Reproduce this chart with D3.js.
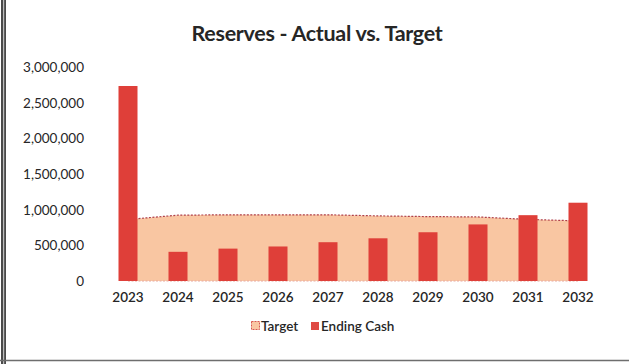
<!DOCTYPE html>
<html>
<head>
<meta charset="utf-8">
<script src="https://cdn.jsdelivr.net/npm/d3@7/dist/d3.min.js"></script>
<style>
  html, body { margin: 0; padding: 0; background: #fff; }
  svg { display: block; }
  text { font-family: Lato, "Open Sans", sans-serif; fill: #262626; }
</style>
</head>
<body>
<svg id="chart" width="629" height="364"></svg>
<script>
// Reserve projections by year
const years = ["2023", "2024", "2025", "2026", "2027", "2028", "2029", "2030", "2031", "2032"];
const endingCash = [2740000, 410000, 455000, 485000, 545000, 600000, 685000, 795000, 925000, 1100000];
const target = [865000, 925000, 930000, 930000, 930000, 915000, 905000, 900000, 865000, 845000];
const yTicks = [0, 500000, 1000000, 1500000, 2000000, 2500000, 3000000];

const svg = d3.select("#chart");
const W = 629, H = 364;

// frame edges
svg.append("rect").attr("x", 1).attr("y", 0).attr("width", 5).attr("height", H)
  .attr("fill", "#4a4a4a");
svg.append("rect").attr("x", 3).attr("y", 0).attr("width", 1.2).attr("height", H)
  .attr("fill", "#bdbdbd");
svg.append("line").attr("x1", 0).attr("x2", W).attr("y1", 360.5).attr("y2", 360.5)
  .attr("stroke", "#6e6e6e").attr("stroke-width", 1.5);

const x = d3.scaleBand().domain(years).range([103, 603]).paddingInner(0.62).paddingOuter(0.31);
const y = d3.scaleLinear().domain([0, 3000000]).range([281, 67.5]);

// title
svg.append("text").attr("x", 317).attr("y", 41).attr("text-anchor", "middle")
  .attr("font-size", 21.5).attr("font-weight", 700).attr("fill", "#111")
  .style("letter-spacing", "-0.3px")
  .text("Reserves - Actual vs. Target");

// y axis labels
const yAxis = d3.axisLeft(y).tickValues(yTicks).tickSize(0).tickPadding(0)
  .tickFormat(d => d === 0 ? "0" : d3.format(",")(d));
const gy = svg.append("g").attr("transform", "translate(84,0)").call(yAxis);
gy.select(".domain").remove();
gy.selectAll("text").attr("font-size", 13.5).attr("fill", "#2a2a2a")
  .style("font-family", "Lato, 'Open Sans', sans-serif");

// target area
const cx = d => x(d) + x.bandwidth() / 2;
const data = years.map((yr, i) => ({ yr, t: target[i], c: endingCash[i] }));
const area = d3.area().x(d => cx(d.yr)).y0(y(0)).y1(d => y(d.t));
const line = d3.line().x(d => cx(d.yr)).y(d => y(d.t));
svg.append("path").datum(data).attr("d", area).attr("fill", "#f9c6a2");
svg.append("path").datum(data).attr("d", line).attr("fill", "none")
  .attr("stroke", "#b0404a").attr("stroke-width", 1.2).attr("stroke-dasharray", "2,1.5");
svg.append("line").attr("x1", cx(years[0])).attr("x2", cx(years[years.length - 1]))
  .attr("y1", y(0)).attr("y2", y(0))
  .attr("stroke", "#e8a9a0").attr("stroke-width", 1).attr("stroke-dasharray", "2,1.5");

// ending cash bars
svg.append("g").selectAll("rect").data(data).join("rect")
  .attr("x", d => x(d.yr)).attr("width", x.bandwidth())
  .attr("y", d => y(d.c)).attr("height", d => y(0) - y(d.c))
  .attr("fill", "#df3f39");

// x axis labels
const xAxis = d3.axisBottom(x).tickSize(0).tickPadding(0);
const gx = svg.append("g").attr("transform", "translate(0,292)").call(xAxis);
gx.select(".domain").remove();
gx.selectAll("text").attr("font-size", 13.5).attr("font-weight", 600).attr("fill", "#2a2a2a")
  .attr("dy", "0.71em")
  .style("font-family", "Lato, 'Open Sans', sans-serif");

// legend
const lg = svg.append("g").attr("transform", "translate(0,326)");
lg.append("rect").attr("x", 251.5).attr("y", -4.5).attr("width", 8).attr("height", 8)
  .attr("fill", "#f9c6a2").attr("stroke", "#d8584f").attr("stroke-width", 1)
  .attr("stroke-dasharray", "2,1");
lg.append("text").attr("x", 261).attr("y", 0).attr("dy", "0.35em")
  .attr("font-size", 13.5).attr("font-weight", 600).text("Target");
lg.append("rect").attr("x", 311).attr("y", -4).attr("width", 8).attr("height", 8)
  .attr("fill", "#df4a44");
lg.append("text").attr("x", 321).attr("y", 0).attr("dy", "0.35em")
  .attr("font-size", 13.5).attr("font-weight", 600).text("Ending Cash");
</script>
</body>
</html>
